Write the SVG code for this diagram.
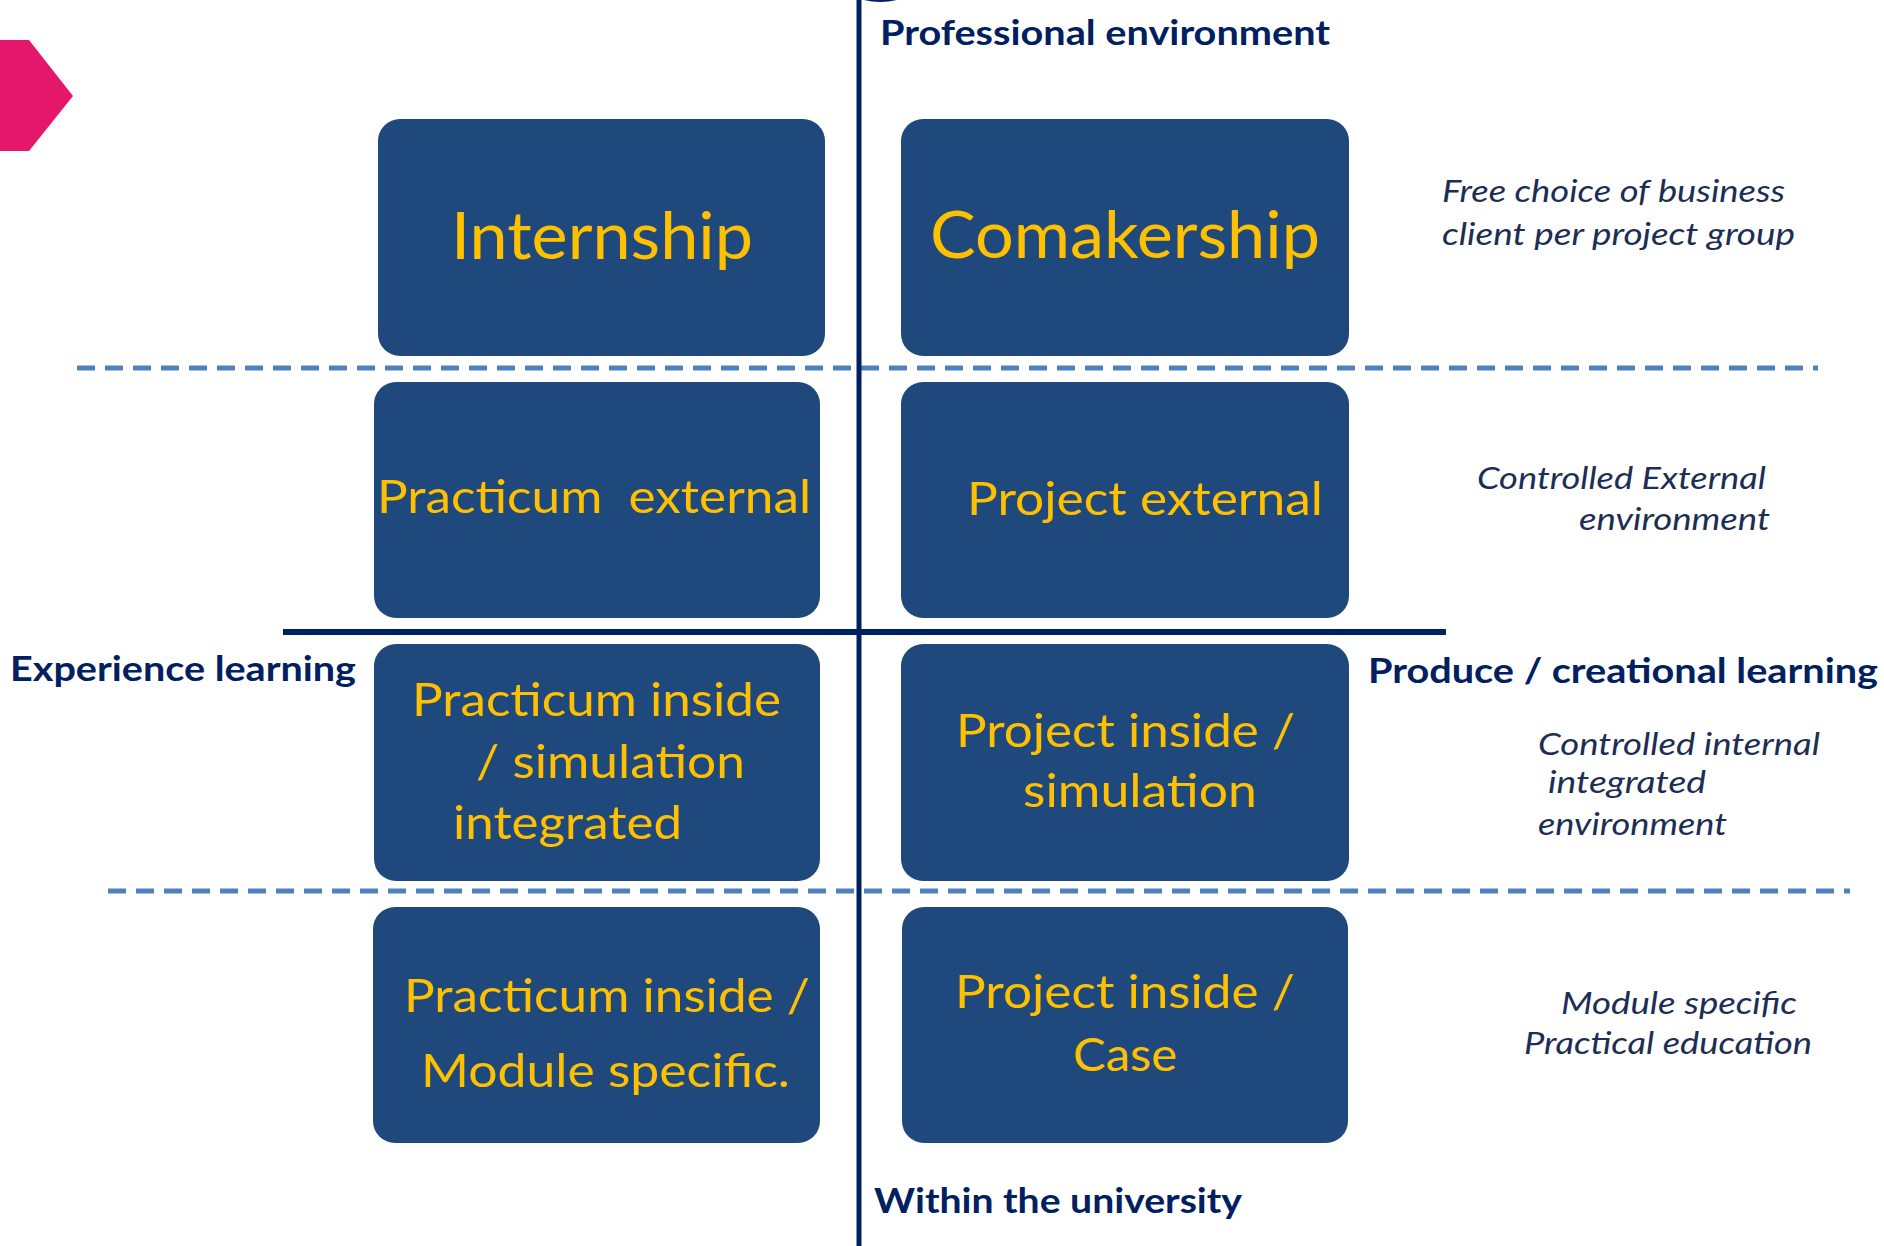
<svg xmlns="http://www.w3.org/2000/svg" width="1884" height="1246" viewBox="0 0 1884 1246">
<style>
.box{fill:#1F497D;}
.yt{font-family:Lato,"Liberation Sans",sans-serif;fill:#FFC000;white-space:pre;}
.big{font-size:66px;}
.mid{font-size:47px;}
.lbl{font-family:Lato,"Liberation Sans",sans-serif;font-weight:bold;font-size:34px;fill:#002060;}
.it{font-family:Lato,"Liberation Sans",sans-serif;font-style:italic;font-size:30px;fill:#1C2E54;}
.dash{stroke:#4F81BD;stroke-width:5;stroke-dasharray:18 10;fill:none;}
.axis{stroke:#002060;fill:none;}
</style>
<rect width="1884" height="1246" fill="#FFFFFF"/>
<polygon points="0,40 29,40 73,96 29,151 0,151" fill="#E5176A"/>
<g id="connectors">
<line class="dash" x1="77" y1="368" x2="1818" y2="368"/>
<line class="dash" x1="108" y1="891" x2="1850" y2="891"/>
<line class="axis" x1="859" y1="0" x2="859" y2="1246" stroke-width="5"/>
<line class="axis" x1="283" y1="632" x2="1446" y2="632" stroke-width="6"/>
<path d="M864,0 Q880,4 897,0 Z" fill="#002060"/>
</g>
<g id="label-professional"><text class="lbl" x="880" y="45" textLength="450" lengthAdjust="spacingAndGlyphs">Professional environment</text></g>
<g id="label-within"><text class="lbl" x="874" y="1213" textLength="368" lengthAdjust="spacingAndGlyphs">Within the university</text></g>
<g id="label-experience"><text class="lbl" x="10" y="681" textLength="346" lengthAdjust="spacingAndGlyphs">Experience learning</text></g>
<g id="label-produce"><text class="lbl" x="1368" y="683" textLength="510" lengthAdjust="spacingAndGlyphs">Produce / creational learning</text></g>
<g id="node-internship">
<rect class="box" x="378" y="119" width="447" height="237" rx="22"/>
<text class="yt big" x="451" y="259" textLength="302" lengthAdjust="spacingAndGlyphs">Internship</text>
</g>
<g id="node-comakership">
<rect class="box" x="901" y="119" width="448" height="237" rx="22"/>
<text class="yt big" x="930" y="258" textLength="390" lengthAdjust="spacingAndGlyphs">Comakership</text>
</g>
<g id="node-practicum-external">
<rect class="box" x="374" y="382" width="446" height="236" rx="22"/>
<text class="yt mid" x="377" y="513" textLength="434" lengthAdjust="spacingAndGlyphs">Practicum  external</text>
</g>
<g id="node-project-external">
<rect class="box" x="901" y="382" width="448" height="236" rx="22"/>
<text class="yt mid" x="967" y="515" textLength="356" lengthAdjust="spacingAndGlyphs">Project external</text>
</g>
<g id="node-practicum-simulation">
<rect class="box" x="374" y="644" width="446" height="237" rx="22"/>
<text class="yt mid" x="412" y="716" textLength="369" lengthAdjust="spacingAndGlyphs">Practicum inside</text>
<text class="yt mid" x="476" y="778" textLength="269" lengthAdjust="spacingAndGlyphs">/ simulation</text>
<text class="yt mid" x="453" y="839" textLength="229" lengthAdjust="spacingAndGlyphs">integrated</text>
</g>
<g id="node-project-simulation">
<rect class="box" x="901" y="644" width="448" height="237" rx="22"/>
<text class="yt mid" x="956" y="747" textLength="339" lengthAdjust="spacingAndGlyphs">Project inside /</text>
<text class="yt mid" x="1023" y="807" textLength="234" lengthAdjust="spacingAndGlyphs">simulation</text>
</g>
<g id="node-practicum-module">
<rect class="box" x="373" y="907" width="447" height="236" rx="22"/>
<text class="yt mid" x="404" y="1012" textLength="406" lengthAdjust="spacingAndGlyphs">Practicum inside /</text>
<text class="yt mid" x="421" y="1087" textLength="369" lengthAdjust="spacingAndGlyphs">Module specific.</text>
</g>
<g id="node-project-case">
<rect class="box" x="902" y="907" width="446" height="236" rx="22"/>
<text class="yt mid" x="955" y="1008" textLength="340" lengthAdjust="spacingAndGlyphs">Project inside /</text>
<text class="yt mid" x="1073" y="1071" textLength="104" lengthAdjust="spacingAndGlyphs">Case</text>
</g>
<g id="desc-free-choice">
<text class="it" x="1442" y="202" textLength="343" lengthAdjust="spacingAndGlyphs">Free choice of business</text>
<text class="it" x="1442" y="245" textLength="353" lengthAdjust="spacingAndGlyphs">client per project group</text>
</g>
<g id="desc-controlled-external">
<text class="it" x="1477" y="489" textLength="289" lengthAdjust="spacingAndGlyphs">Controlled External</text>
<text class="it" x="1579" y="530" textLength="191" lengthAdjust="spacingAndGlyphs">environment</text>
</g>
<g id="desc-controlled-internal">
<text class="it" x="1538" y="755" textLength="282" lengthAdjust="spacingAndGlyphs">Controlled internal</text>
<text class="it" x="1548" y="793" textLength="158" lengthAdjust="spacingAndGlyphs">integrated</text>
<text class="it" x="1538" y="835" textLength="189" lengthAdjust="spacingAndGlyphs">environment</text>
</g>
<g id="desc-module">
<text class="it" x="1561" y="1014" textLength="236" lengthAdjust="spacingAndGlyphs">Module specific</text>
<text class="it" x="1524" y="1054" textLength="288" lengthAdjust="spacingAndGlyphs">Practical education</text>
</g>
</svg>
